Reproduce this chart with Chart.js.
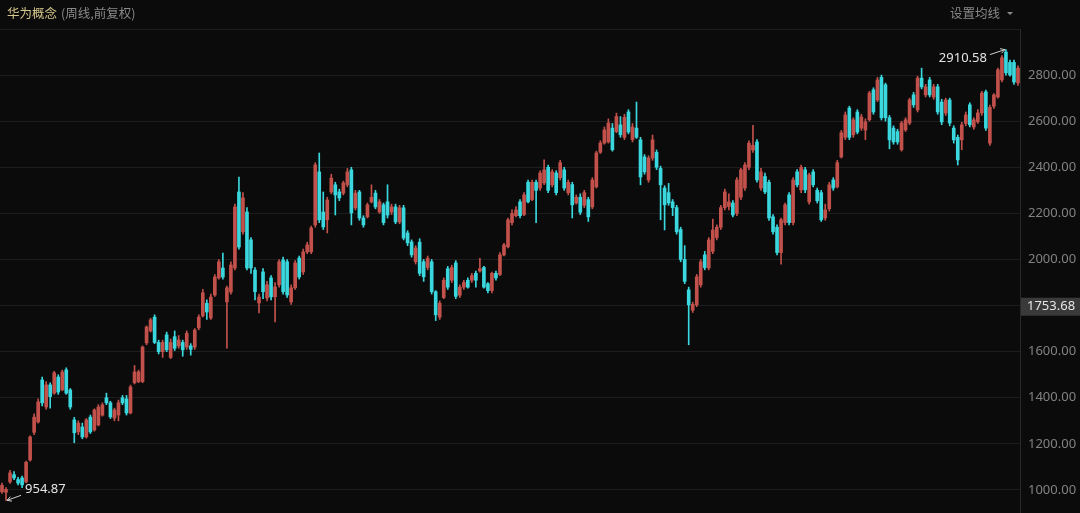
<!DOCTYPE html>
<html>
<head>
<meta charset="utf-8">
<script src="https://cdn.jsdelivr.net/npm/chart.js@4.4.0/dist/chart.umd.min.js"></script>
<style>
    html, body { margin: 0; padding: 0; background: #0b0b0b; }
    #wrap { position: relative; width: 1080px; height: 513px; overflow: hidden; }
    #title { position: absolute; left: 7px; top: 3px; font: 12.5px "Noto Sans CJK SC"; color: #d6c78c; white-space: nowrap; }
    #title span { color: #8a8a8a; margin-left: 4px; }
    #ma { position: absolute; left: 950px; top: 3px; font: 12.5px "Noto Sans CJK SC"; color: #8a8a8a; white-space: nowrap; }
    #ma i { display: inline-block; width: 0; height: 0; margin-left: 7px; vertical-align: 3px;
            border-left: 3px solid transparent; border-right: 3px solid transparent; border-top: 3px solid #8a8a8a; }
</style>
</head>
<body>
<div id="wrap">
    <canvas id="kline" width="1080" height="513"></canvas>
    <div id="title">华为概念<span>(周线,前复权)</span></div>
    <div id="ma">设置均线<i></i></div>
</div>
<script>
// weekly candles (254 weeks)
const opens = [
    992, 990, 1035, 1066, 1045, 1052, 1035, 1130, 1250, 1295,
    1477, 1360, 1456, 1420, 1490, 1434, 1521, 1434, 1304, 1252,
    1273, 1230, 1316, 1260, 1282, 1325, 1400, 1378, 1312, 1325,
    1400, 1395, 1334, 1465, 1470, 1470, 1638, 1690, 1750, 1640,
    1600, 1673, 1575, 1665, 1625, 1640, 1620, 1625, 1620, 1703,
    1755, 1810, 1746, 1846, 1920, 1963, 1816, 1859, 1963, 2293,
    2120, 2206, 2085, 1954, 1811, 1946, 1833, 1920, 1838, 1890,
    1998, 1990, 1816, 1877, 2006, 1946, 2033, 2033, 2150, 2380,
    2206, 2172, 2293, 2324, 2293, 2288, 2324, 2389, 2224, 2293,
    2180, 2185, 2250, 2288, 2206, 2237, 2250, 2206, 2228, 2163,
    2224, 2115, 2076, 1990, 2075, 1990, 1965, 1990, 1860, 1750,
    1835, 1960, 1910, 1985, 1845, 1880, 1910, 1910, 1940, 1950,
    1965, 1895, 1865, 1940, 1935, 2020, 2055, 2160, 2190, 2250,
    2195, 2335, 2260, 2335, 2310, 2332, 2400, 2324, 2375, 2355,
    2389, 2290, 2325, 2245, 2270, 2235, 2260, 2228, 2315, 2465,
    2505, 2510, 2570, 2555, 2584, 2530, 2640, 2520, 2570, 2519,
    2445, 2345, 2440, 2465, 2395, 2310, 2290, 2250, 2225, 2130,
    2000, 1868, 1780, 1803, 1890, 2020, 1963, 2035, 2095, 2140,
    2225, 2230, 2245, 2200, 2270, 2310, 2400, 2475, 2510, 2310,
    2360, 2335, 2185, 2140, 2030, 2160, 2280, 2160, 2380, 2302,
    2389, 2250, 2380, 2300, 2290, 2180, 2220, 2345, 2315, 2445,
    2530, 2657, 2541, 2640, 2570, 2562, 2606, 2736, 2692, 2790,
    2758, 2615, 2570, 2555, 2476, 2562, 2592, 2714, 2649, 2787,
    2714, 2779, 2705, 2749, 2683, 2635, 2692, 2570, 2530, 2519,
    2590, 2671, 2575, 2597, 2636, 2727, 2505, 2665, 2705, 2779,
    2900, 2855, 2855, 2766
];
const highs = [
    1030, 1010, 1085, 1080, 1055, 1060, 1125, 1235, 1330, 1395,
    1490, 1470, 1465, 1515, 1500, 1520, 1530, 1440, 1315, 1300,
    1290, 1310, 1325, 1352, 1370, 1378, 1420, 1385, 1355, 1390,
    1410, 1410, 1455, 1540, 1520, 1625, 1712, 1745, 1760, 1650,
    1650, 1685, 1655, 1690, 1670, 1650, 1690, 1635, 1700, 1760,
    1870, 1825, 1850, 1935, 2000, 2028, 1885, 1990, 2240, 2358,
    2290, 2225, 2095, 1965, 1850, 1960, 1905, 1930, 1900, 2000,
    2010, 2000, 1890, 1995, 2015, 2045, 2075, 2145, 2420, 2462,
    2293, 2270, 2370, 2335, 2305, 2340, 2395, 2400, 2300, 2300,
    2190, 2245, 2324, 2300, 2260, 2245, 2324, 2240, 2240, 2235,
    2235, 2125, 2085, 2060, 2090, 2000, 2015, 2000, 1865, 1820,
    1920, 1970, 1975, 1995, 1890, 1910, 1920, 1940, 1950, 2005,
    1970, 1900, 1945, 1950, 2030, 2070, 2180, 2215, 2230, 2260,
    2290, 2345, 2345, 2345, 2385, 2432, 2410, 2390, 2385, 2430,
    2400, 2345, 2335, 2280, 2285, 2300, 2270, 2355, 2470, 2515,
    2575, 2610, 2590, 2635, 2620, 2630, 2650, 2590, 2683, 2530,
    2455, 2450, 2540, 2475, 2405, 2320, 2330, 2260, 2235, 2140,
    2060, 1880, 1815, 1935, 2000, 2035, 2095, 2175, 2150, 2235,
    2305, 2285, 2255, 2355, 2395, 2420, 2515, 2582, 2520, 2395,
    2375, 2345, 2195, 2150, 2180, 2245, 2290, 2355, 2390, 2410,
    2400, 2375, 2390, 2310, 2300, 2240, 2335, 2355, 2430, 2560,
    2640, 2665, 2615, 2650, 2630, 2610, 2730, 2745, 2790, 2800,
    2765, 2625, 2580, 2565, 2600, 2615, 2700, 2725, 2795, 2830,
    2760, 2790, 2760, 2760, 2695, 2700, 2700, 2580, 2540, 2595,
    2640, 2680, 2615, 2650, 2730, 2735, 2670, 2720, 2830, 2885,
    2910.58, 2865, 2865, 2840
];
const lows = [
    985, 954.87, 1028, 1045, 1022, 1010, 1030, 1125, 1240, 1290,
    1365, 1350, 1355, 1415, 1415, 1430, 1415, 1350, 1205, 1240,
    1222, 1225, 1245, 1255, 1278, 1320, 1370, 1310, 1300, 1300,
    1370, 1325, 1330, 1460, 1465, 1465, 1630, 1685, 1635, 1590,
    1575, 1600, 1570, 1605, 1615, 1580, 1610, 1585, 1610, 1695,
    1750, 1740, 1740, 1840, 1915, 1915, 1615, 1850, 1955, 2045,
    2110, 1955, 1940, 1825, 1768, 1830, 1820, 1825, 1729, 1880,
    1850, 1835, 1805, 1870, 1915, 1935, 2025, 2025, 2140, 2160,
    2130, 2115, 2285, 2193, 2255, 2280, 2315, 2150, 2215, 2170,
    2140, 2180, 2245, 2220, 2200, 2150, 2180, 2195, 2155, 2155,
    2085, 2060, 2010, 1980, 1930, 1905, 1955, 1850, 1735, 1740,
    1830, 1870, 1900, 1830, 1835, 1870, 1875, 1900, 1880, 1945,
    1875, 1855, 1855, 1910, 1930, 2015, 2050, 2150, 2185, 2180,
    2190, 2245, 2255, 2160, 2300, 2325, 2290, 2315, 2280, 2345,
    2300, 2280, 2180, 2240, 2195, 2225, 2165, 2220, 2310, 2460,
    2500, 2505, 2470, 2550, 2530, 2520, 2545, 2510, 2525, 2324,
    2370, 2335, 2430, 2390, 2172, 2128, 2235, 2190, 2110, 1990,
    1895, 1630, 1770, 1795, 1880, 1955, 1955, 2025, 2085, 2130,
    2215, 2215, 2185, 2190, 2260, 2300, 2390, 2465, 2335, 2300,
    2285, 2170, 2110, 2020, 1980, 2150, 2150, 2150, 2315, 2290,
    2290, 2240, 2315, 2245, 2165, 2170, 2210, 2300, 2310, 2440,
    2520, 2520, 2530, 2545, 2560, 2520, 2600, 2630, 2685, 2605,
    2600, 2480, 2500, 2500, 2470, 2555, 2585, 2660, 2640, 2740,
    2705, 2705, 2695, 2630, 2585, 2625, 2580, 2505, 2410, 2476,
    2580, 2575, 2565, 2590, 2625, 2560, 2495, 2655, 2700, 2770,
    2800, 2795, 2760, 2755
];
const closes = [
    1020, 1002, 1074, 1052, 1030, 1022, 1120, 1230, 1316, 1382,
    1378, 1456, 1405, 1508, 1425, 1512, 1420, 1360, 1248, 1290,
    1230, 1304, 1252, 1347, 1360, 1369, 1378, 1317, 1347, 1378,
    1378, 1334, 1447, 1512, 1512, 1620, 1707, 1738, 1640, 1600,
    1640, 1608, 1640, 1615, 1651, 1608, 1680, 1610, 1694, 1750,
    1855, 1772, 1837, 1924, 1990, 1924, 1877, 1976, 2228, 2054,
    2267, 1963, 1963, 1860, 1837, 1860, 1890, 1838, 1881, 1990,
    1860, 1846, 1877, 1985, 1924, 2033, 2063, 2137, 2410, 2172,
    2141, 2258, 2353, 2280, 2267, 2332, 2380, 2202, 2288, 2180,
    2150, 2237, 2270, 2228, 2250, 2160, 2193, 2228, 2163, 2224,
    2093, 2072, 2020, 2050, 1940, 1925, 2005, 1860, 1760, 1810,
    1910, 1880, 1965, 1840, 1880, 1900, 1880, 1930, 1910, 1960,
    1880, 1865, 1940, 1920, 2020, 2063, 2172, 2200, 2215, 2190,
    2280, 2250, 2335, 2300, 2375, 2389, 2300, 2380, 2290, 2420,
    2310, 2335, 2237, 2270, 2205, 2290, 2185, 2345, 2462, 2505,
    2562, 2592, 2476, 2620, 2541, 2617, 2553, 2575, 2530, 2358,
    2380, 2440, 2519, 2400, 2324, 2237, 2245, 2225, 2120, 2000,
    1905, 1803, 1805, 1925, 1990, 1965, 2085, 2128, 2140, 2225,
    2293, 2250, 2193, 2345, 2389, 2410, 2505, 2495, 2345, 2380,
    2293, 2180, 2120, 2030, 2172, 2237, 2160, 2345, 2324, 2400,
    2302, 2367, 2324, 2255, 2172, 2215, 2324, 2310, 2420, 2550,
    2627, 2530, 2606, 2553, 2618, 2597, 2722, 2640, 2779, 2615,
    2615, 2519, 2510, 2510, 2592, 2606, 2692, 2671, 2787, 2749,
    2749, 2714, 2749, 2640, 2597, 2692, 2592, 2519, 2432, 2584,
    2627, 2584, 2606, 2636, 2722, 2570, 2660, 2714, 2823, 2875,
    2810, 2801, 2770, 2830
];
const weeks = opens.map((_, i) => 'W' + (i + 1));
const yTicks = [1000, 1200, 1400, 1600, 2000, 2200, 2400, 2600, 2800];
const cursorLabel = '1753.68';
const cursorLevel = 1795; // crosshair sits here on the axis

const UP = '#c2514b';
const DOWN = '#3ad8de';
const colors = opens.map((o, i) => closes[i] >= o ? UP : DOWN);

function arrow(ctx, x1, y1, x2, y2) {
    const a = Math.atan2(y2 - y1, x2 - x1);
    ctx.beginPath();
    ctx.moveTo(x1, y1);
    ctx.lineTo(x2, y2);
    ctx.moveTo(x2 - 5 * Math.cos(a - 0.5), y2 - 5 * Math.sin(a - 0.5));
    ctx.lineTo(x2, y2);
    ctx.lineTo(x2 - 5 * Math.cos(a + 0.5), y2 - 5 * Math.sin(a + 0.5));
    ctx.stroke();
}

const markers = {
    id: 'markers',
    afterDraw(chart) {
        const {ctx, scales: {x, y}} = chart;
        const hi = highs.indexOf(Math.max(...highs));
        const lo = lows.indexOf(Math.min(...lows));
        ctx.save();
        ctx.strokeStyle = '#d0d0d0';
        ctx.fillStyle = '#e4e4e4';
        ctx.lineWidth = 1;
        ctx.font = '13px "Noto Sans"';
        ctx.textBaseline = 'middle';

        let px = x.getPixelForValue(hi), py = y.getPixelForValue(highs[hi]);
        arrow(ctx, px - 16, py + 5, px - 1, py);
        ctx.textAlign = 'right';
        ctx.fillText(highs[hi].toFixed(2), px - 19, py + 9);

        px = x.getPixelForValue(lo); py = y.getPixelForValue(lows[lo]);
        arrow(ctx, px + 15, py - 5, px + 1, py);
        ctx.textAlign = 'left';
        ctx.fillText(lows[lo].toFixed(2), px + 19, py - 11);

        // crosshair price badge on the axis
        const by = y.getPixelForValue(cursorLevel);
        ctx.fillStyle = '#3a3a3a';
        ctx.fillRect(y.left + 1, by - 9, y.right - y.left - 1, 18);
        ctx.fillStyle = '#e6e6e6';
        ctx.fillText(cursorLabel, y.left + 7, by);
        ctx.restore();
    }
};

const config = {
    type: 'bar',
    data: {
        labels: weeks,
        datasets: [{
                data: lows.map((l, i) => [l, highs[i]]),
                backgroundColor: colors,
                barThickness: 1,
                grouped: false,
                order: 2
            }, {
                data: opens.map((o, i) => [Math.min(o, closes[i]), Math.max(o, closes[i])]),
                backgroundColor: colors,
                barThickness: 3,
                minBarLength: 1,
                grouped: false,
                order: 1
            }]
    },
    options: {
        responsive: false,
        animation: false,
        layout: {padding: {top: 29, left: 0, right: 0, bottom: 0}},
        plugins: {legend: {display: false}, tooltip: {enabled: false}},
        scales: {
            x: {display: false, offset: true},
            y: {
                position: 'right',
                min: 900,
                max: 3000,
                afterFit(s) {
                    s.width = 60;
                    s.paddingTop = 0;
                    s.paddingBottom = 0;
                },
                ticks: {
                    stepSize: 200,
                    padding: 8,
                    color: '#828282',
                    font: {family: 'Noto Sans', size: 13},
                    callback: v => yTicks.includes(v) ? v.toFixed(2) : ''
                },
                grid: {color: '#1d1d1d', drawTicks: false},
                border: {display: true, color: '#2a2a2a'}
            }
        }
    },
    plugins: [markers]
};
new Chart(document.getElementById('kline').getContext('2d'), config);
</script>
</body>
</html>
